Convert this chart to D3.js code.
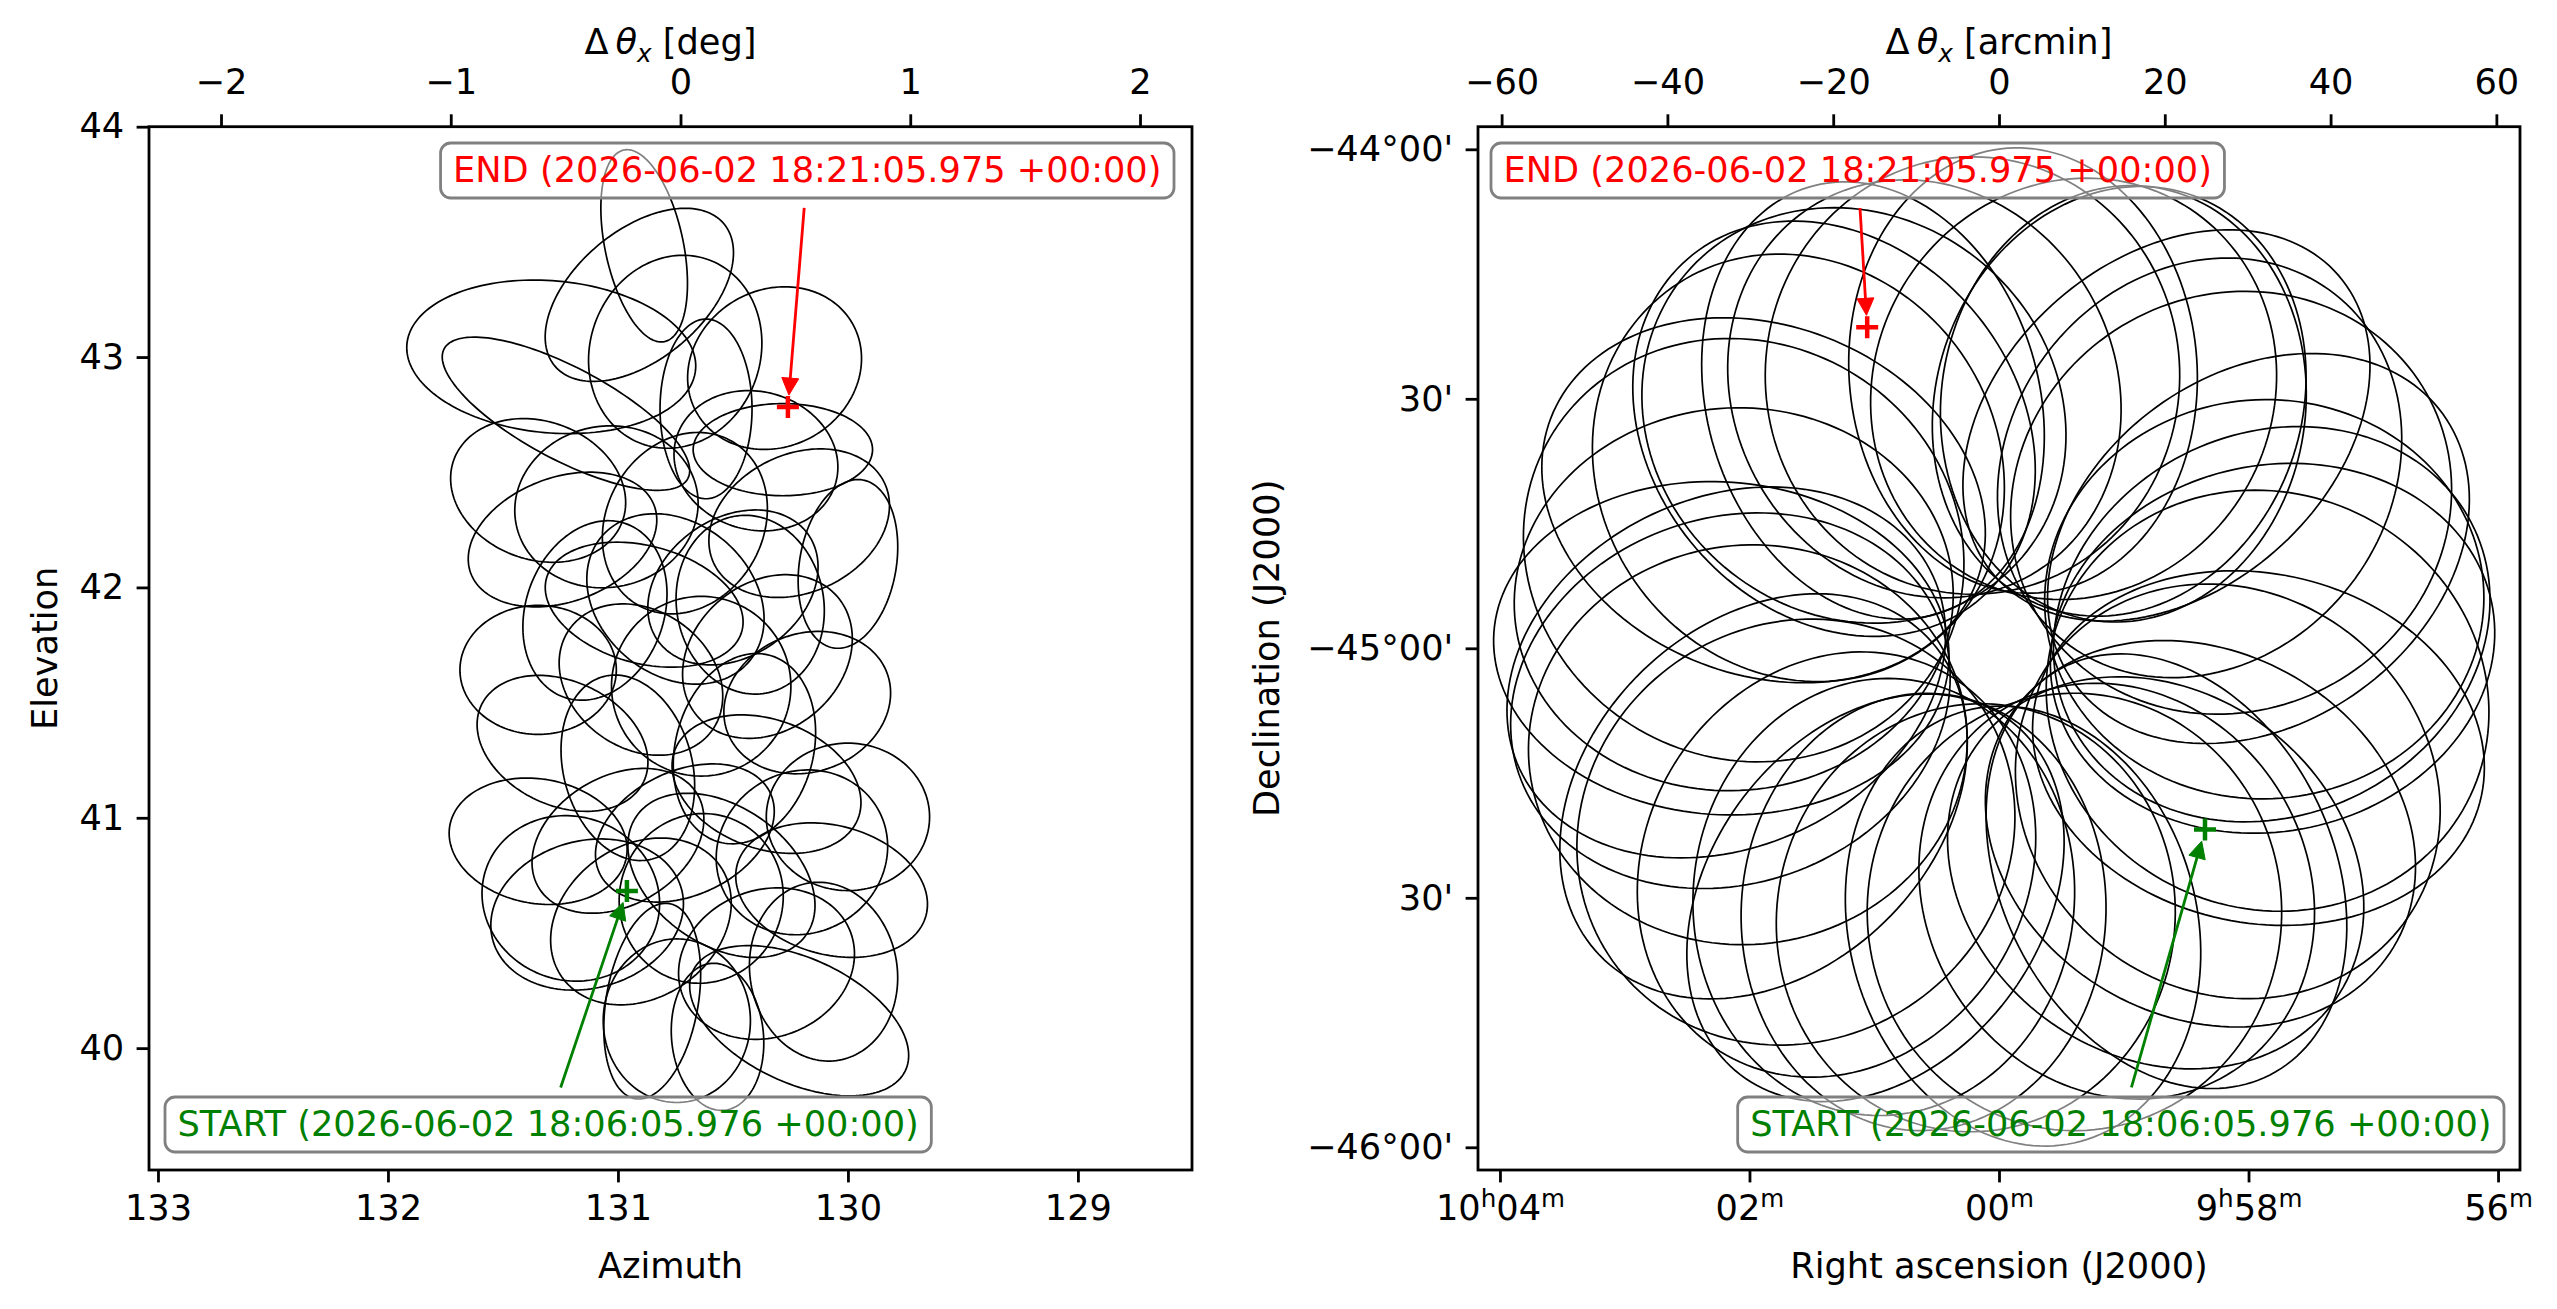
<!DOCTYPE html>
<html>
<head>
<meta charset="utf-8">
<script src="https://cdn.jsdelivr.net/npm/d3@7"></script>
<style>
  body { margin: 0; background: #fff; }
  svg text { font-family: "DejaVu Sans", sans-serif; }
</style>
</head>
<body>
<div id="container"></div>
<script>
/* DATA */
// scan loops seen in Az/El: [az, el, rx deg, ry deg, rotation deg (screen)]
const azElLoops = [
  [130.886, 43.483, 0.17, 0.425, -12],
  [130.907, 43.270, 0.48, 0.28, -40],
  [131.290, 43.001, 0.63, 0.33, 5],
  [131.226, 42.754, 0.60, 0.20, 28],
  [130.319, 42.952, 0.39, 0.34, -30],
  [130.283, 42.598, 0.39, 0.20, 0],
  [130.617, 42.775, 0.20, 0.39, 0],
  [130.751, 43.023, 0.37, 0.425, 20],
  [131.347, 42.421, 0.39, 0.30, 20],
  [131.241, 42.208, 0.425, 0.27, -20],
  [130.709, 42.279, 0.34, 0.41, 30],
  [130.212, 42.279, 0.41, 0.30, -25],
  [130.886, 41.925, 0.44, 0.255, 15],
  [130.425, 41.925, 0.32, 0.39, -10],
  [130.000, 42.102, 0.21, 0.37, 10],
  [131.347, 41.642, 0.34, 0.28, 0],
  [131.241, 41.323, 0.39, 0.27, 25],
  [130.638, 41.571, 0.39, 0.39, 0],
  [130.177, 41.500, 0.37, 0.30, -20],
  [130.354, 41.146, 0.425, 0.28, 20],
  [130.957, 41.217, 0.28, 0.41, -15],
  [130.000, 41.004, 0.355, 0.32, 0],
  [130.709, 40.934, 0.41, 0.27, -25],
  [131.347, 40.898, 0.39, 0.27, 10],
  [131.134, 40.580, 0.425, 0.32, -15],
  [130.638, 40.650, 0.355, 0.37, 20],
  [130.071, 40.686, 0.425, 0.28, 15],
  [130.354, 40.367, 0.39, 0.32, -20],
  [130.851, 40.204, 0.20, 0.43, 10],
  [130.744, 40.119, 0.32, 0.355, 0],
  [130.212, 40.119, 0.51, 0.27, 25],
  [130.106, 40.332, 0.32, 0.39, -10],
  [130.567, 40.049, 0.20, 0.32, -5],
  [131.205, 40.650, 0.39, 0.355, 20],
  [130.500, 42.000, 0.40, 0.30, -35],
  [130.900, 41.600, 0.38, 0.30, 35],
  [130.450, 41.300, 0.30, 0.42, 15],
  [131.000, 40.900, 0.40, 0.28, -30],
  [130.750, 41.950, 0.42, 0.33, 40],
  [130.350, 41.700, 0.40, 0.32, -40],
  [131.050, 42.350, 0.40, 0.35, -10],
  [130.550, 40.750, 0.45, 0.30, 35],
  [130.900, 40.550, 0.42, 0.33, -35],
  [130.400, 42.550, 0.36, 0.30, 15],
  [131.100, 41.900, 0.30, 0.40, 20],
  [130.200, 40.850, 0.38, 0.35, -30]
];

// the same loops on the sky, offsets from field centre in arcmin:
// [dx, dy, semi-major, semi-minor, major axis angle deg]
const skyLoops = [
  [33.0, 0.0, 27, 22, 12],
  [32.9, 2.9, 27, 23, 25],
  [32.0, 5.9, 26.5, 24, 2.5],
  [31.3, 12.0, 27.5, 21, 36],
  [28.0, 17.5, 27, 25, 27],
  [24.2, 21.7, 26.5, 23, 52],
  [20.2, 26.8, 27.5, 20, 41],
  [15.0, 29.4, 26.3, 22, 83],
  [14.5, 29.7, 26.3, 22, 70],
  [9.0, 31.2, 25.8, 24, 59],
  [2.9, 33.4, 26.8, 21, 94],
  [-3.2, 32.8, 26.3, 25, 89.5],
  [-9.0, 31.2, 25.8, 23, 120],
  [-15.2, 29.8, 26.8, 20, 107],
  [-17.5, 28.0, 26.5, 24, 142],
  [-19.9, 26.4, 27, 22, 131],
  [-24.2, 21.7, 26.5, 24, 125],
  [-28.4, 17.8, 27.5, 21, 159],
  [-30.8, 11.8, 27, 25, 152],
  [-32.0, 5.9, 26.5, 23, 184.5],
  [-33.5, 0.0, 27.5, 20, 176],
  [-32.9, -2.9, 27.5, 21, 205],
  [-32.4, -6.3, 27, 22, 199],
  [-30.3, -11.6, 26.5, 24, 187],
  [-28.4, -17.8, 27.5, 21, 224],
  [-24.5, -22.1, 27, 25, 213],
  [-19.6, -26.0, 26.5, 23, 238],
  [-14.9, -30.0, 26.8, 20, 232.5],
  [-13.9, -29.9, 26.3, 23, 265],
  [-9.1, -31.7, 26.3, 22, 267],
  [-2.8, -32.4, 25.8, 24, 259],
  [2.9, -33.4, 26.8, 21, 285],
  [9.1, -31.7, 26.3, 25, 271],
  [14.2, -29.2, 25.8, 23, 303],
  [18.9, -27.0, 26.5, 22, 325],
  [20.2, -26.8, 27.5, 20, 297],
  [24.3, -22.3, 27, 22, 331.5],
  [27.6, -17.2, 26.5, 24, 323],
  [31.3, -12.0, 27.5, 21, 348],
  [32.4, -6.3, 27, 25, 337]
];

const startAzEl = [130.961, 40.682], endAzEl = [130.261, 42.783];
const startSky = [24.85, -21.8], endSky = [-15.9, 38.6];
const startLabel = "START (2026-06-02 18:06:05.976 +00:00)";
const endLabel = "END (2026-06-02 18:21:05.975 +00:00)";

const azTicks = [133, 132, 131, 130, 129];
const elTicks = [40, 41, 42, 43, 44];
const dThetaDegTicks = [-2, -1, 0, 1, 2];
const dThetaArcminTicks = [-60, -40, -20, 0, 20, 40, 60];
const raTicks = [604, 602, 600, 598, 596]; // RA in minutes of time
const raTickLabels = ["10h04m", "02m", "00m", "9h58m", "56m"];
const decTicks = [-44, -44.5, -45, -45.5, -46];
const decTickLabels = ["\u221244\u00b000'", "30'", "\u221245\u00b000'", "30'", "\u221246\u00b000'"];
const centreDec = -45;

/* CONSTANTS */
const width = 2557, height = 1309;
const fs = 35.2;
const tickLen = 12.4, tickPad = 12.4;
const L = { l: 149, r: 1192, t: 126.7, b: 1170 };
const R = { l: 1478, r: 2520, t: 126.7, b: 1170 };

/* SCALES */
const azScale = d3.scaleLinear().domain([133.039, 128.504]).range([L.l, L.r]);
const elScale = d3.scaleLinear().domain([39.471, 44]).range([L.b, L.t]);
const dDegScale = d3.scaleLinear().domain([-2.3134, 2.2263]).range([L.l, L.r]);
const dArcScale = d3.scaleLinear().domain([-62.85, 62.85]).range([R.l, R.r]);
const raScale = d3.scaleLinear().domain([604.176, 595.824]).range([R.l, R.r]);
const decScale = d3.scaleLinear().domain([-46.0455, -43.9547]).range([R.b, R.t]);

const svg = d3.select("#container").append("svg")
  .attr("width", width).attr("height", height)
  .style("display", "block");

svg.append("rect").attr("width", width).attr("height", height).attr("fill", "#fff");

// LOOP PATHS
const ts = d3.range(160).map(i => 2 * Math.PI * i / 160);
const lineGen = d3.line().curve(d3.curveLinearClosed);

function azElPath([cx, cy, rx, ry, rot]) {
  const r = rot * Math.PI / 180;
  return lineGen(ts.map(t => {
    const ox = rx * Math.cos(t), oy = ry * Math.sin(t);
    const sx = ox * Math.cos(r) - oy * Math.sin(r);
    const sy = ox * Math.sin(r) + oy * Math.cos(r);
    return [azScale(cx - sx), elScale(cy - sy)];
  }));
}

function skyPath([cx, cy, a, b, ang]) {
  const r = ang * Math.PI / 180;
  return lineGen(ts.map(t => {
    const px = a * Math.cos(t) * Math.cos(r) - b * Math.sin(t) * Math.sin(r);
    const py = a * Math.cos(t) * Math.sin(r) + b * Math.sin(t) * Math.cos(r);
    return [dArcScale(cx + px), decScale(centreDec + (cy + py) / 60)];
  }));
}

svg.append("g").selectAll("path")
  .data(azElLoops).join("path")
  .attr("d", azElPath)
  .attr("fill", "none").attr("stroke", "#000").attr("stroke-width", 1.7);

svg.append("g").selectAll("path")
  .data(skyLoops).join("path")
  .attr("d", skyPath)
  .attr("fill", "none").attr("stroke", "#000").attr("stroke-width", 1.7);

// AXES
function styleAxis(g) {
  g.select(".domain").remove();
  g.selectAll(".tick line").attr("stroke", "#000").attr("stroke-width", 2.8);
  g.selectAll(".tick text").attr("font-size", fs).attr("fill", "#000")
    .attr("font-family", "DejaVu Sans");
}

const fmt = d3.format("d");

svg.append("g").attr("transform", `translate(0,${L.b})`)
  .call(d3.axisBottom(azScale).tickValues(azTicks).tickFormat(fmt).tickSize(tickLen).tickPadding(tickPad))
  .call(styleAxis);

svg.append("g").attr("transform", `translate(${L.l},0)`)
  .call(d3.axisLeft(elScale).tickValues(elTicks).tickFormat(fmt).tickSize(tickLen).tickPadding(tickPad))
  .call(styleAxis);

svg.append("g").attr("transform", `translate(0,${L.t})`)
  .call(d3.axisTop(dDegScale).tickValues(dThetaDegTicks).tickFormat(fmt).tickSize(tickLen).tickPadding(tickPad))
  .call(styleAxis)
  .selectAll(".tick text").attr("dy", "-0.23em");

svg.append("g").attr("transform", `translate(0,${R.t})`)
  .call(d3.axisTop(dArcScale).tickValues(dThetaArcminTicks).tickFormat(fmt).tickSize(tickLen).tickPadding(tickPad))
  .call(styleAxis)
  .selectAll(".tick text").attr("dy", "-0.23em");

svg.append("g").attr("transform", `translate(${R.l},0)`)
  .call(d3.axisLeft(decScale).tickValues(decTicks).tickFormat((d, i) => decTickLabels[i]).tickSize(tickLen).tickPadding(tickPad))
  .call(styleAxis);

const raAxis = svg.append("g").attr("transform", `translate(0,${R.b})`)
  .call(d3.axisBottom(raScale).tickValues(raTicks).tickFormat(() => "").tickSize(tickLen).tickPadding(tickPad))
  .call(styleAxis);

// RA labels with raised h / m
const supShift = fs * 0.36;
raAxis.selectAll(".tick text").each(function (d, i) {
  const t = d3.select(this)
    .attr("dy", null)
    .attr("y", tickLen + tickPad + 0.71 * fs);
  const parts = raTickLabels[i].match(/\d+|[hm]/g);
  let raised = false;
  parts.forEach(p => {
    const sup = /[hm]/.test(p);
    const s = t.append("tspan").text(p);
    if (sup) {
      s.attr("font-size", fs * 0.7);
      if (!raised) s.attr("dy", -supShift);
      raised = true;
    } else {
      if (raised) s.attr("dy", supShift);
      raised = false;
    }
  });
});

// SPINES
[L, R].forEach(b => {
  svg.append("rect")
    .attr("x", b.l).attr("y", b.t)
    .attr("width", b.r - b.l).attr("height", b.b - b.t)
    .attr("fill", "none").attr("stroke", "#000").attr("stroke-width", 2.8);
});

// AXIS LABELS
function deltaLabel(x, unit) {
  const t = svg.append("text").attr("x", x).attr("y", 54)
    .attr("text-anchor", "middle").attr("font-size", fs);
  t.append("tspan").text("\u0394\u2009");
  t.append("tspan").attr("font-style", "italic").text("\u03b8");
  t.append("tspan").attr("font-style", "italic").attr("font-size", fs * 0.7).attr("dy", fs * 0.22).text("x");
  t.append("tspan").attr("dy", -fs * 0.22).text(" [" + unit + "]");
}
deltaLabel((L.l + L.r) / 2, "deg");
deltaLabel((R.l + R.r) / 2, "arcmin");

svg.append("text").attr("x", (L.l + L.r) / 2).attr("y", 1278)
  .attr("text-anchor", "middle").attr("font-size", fs).text("Azimuth");
svg.append("text").attr("x", (R.l + R.r) / 2).attr("y", 1278)
  .attr("text-anchor", "middle").attr("font-size", fs).text("Right ascension (J2000)");
svg.append("text").attr("transform", `translate(57,${(L.t + L.b) / 2}) rotate(-90)`)
  .attr("text-anchor", "middle").attr("font-size", fs).text("Elevation");
svg.append("text").attr("transform", `translate(1279,${(R.t + R.b) / 2}) rotate(-90)`)
  .attr("text-anchor", "middle").attr("font-size", fs).text("Declination (J2000)");

// ANNOTATIONS
function annotate(label, color, edgeX, alignRight, top, bottom, target) {
  const g = svg.append("g");
  const [px, py] = target;

  // marker
  g.append("path")
    .attr("d", `M${px - 11},${py}H${px + 11}M${px},${py - 11}V${py + 11}`)
    .attr("stroke", color).attr("stroke-width", 4.5).attr("fill", "none");

  const t = g.append("text").attr("font-size", fs).attr("fill", color).text(label);
  const w = t.node().getComputedTextLength();
  const pad = 12.5;
  const bw = w + 2 * pad;
  const bx = alignRight ? edgeX - bw : edgeX;
  t.attr("x", bx + pad).attr("y", (top + bottom) / 2 + 0.32 * fs);

  // arrow from the box towards the marker
  const cx = bx + bw / 2, cy = (top + bottom) / 2;
  const dx = px - cx, dy = py - cy, len = Math.hypot(dx, dy);
  const ux = dx / len, uy = dy / len;
  const edge = py > cy ? bottom : top;
  const tEdge = (edge - cy) / uy + 10;
  const sx = cx + ux * tEdge, sy = cy + uy * tEdge;
  const ex = px - ux * 12, ey = py - uy * 12;
  const hl = 17, hw = 8.5;
  const bxh = ex - ux * hl, byh = ey - uy * hl;
  g.append("line")
    .attr("x1", sx).attr("y1", sy).attr("x2", bxh + ux * 2).attr("y2", byh + uy * 2)
    .attr("stroke", color).attr("stroke-width", 2.8);
  g.append("path")
    .attr("d", `M${ex},${ey}L${bxh - uy * hw},${byh + ux * hw}L${bxh + uy * hw},${byh - ux * hw}Z`)
    .attr("fill", color).attr("stroke", color).attr("stroke-width", 1);

  g.insert("rect", "text")
    .attr("x", bx).attr("y", top).attr("width", bw).attr("height", bottom - top)
    .attr("rx", 10).attr("ry", 10)
    .attr("fill", "#fff").attr("fill-opacity", 0.5)
    .attr("stroke", "#808080").attr("stroke-width", 2.8);
}

annotate(endLabel, "#ff0000", 1174, true, 143, 198,
  [azScale(endAzEl[0]), elScale(endAzEl[1])]);
annotate(startLabel, "#008000", 165, false, 1097, 1152,
  [azScale(startAzEl[0]), elScale(startAzEl[1])]);
annotate(endLabel, "#ff0000", 1491, false, 143, 198,
  [dArcScale(endSky[0]), decScale(centreDec + endSky[1] / 60)]);
annotate(startLabel, "#008000", 2504, true, 1097, 1152,
  [dArcScale(startSky[0]), decScale(centreDec + startSky[1] / 60)]);
</script>
</body>
</html>
